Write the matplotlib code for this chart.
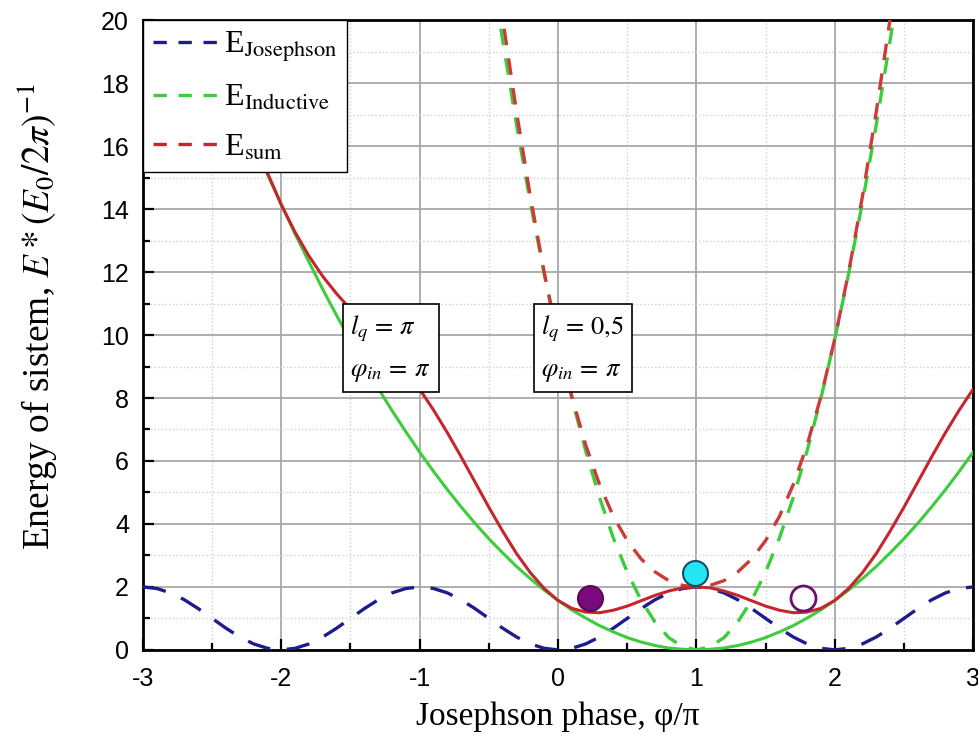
import numpy as np
import matplotlib
matplotlib.use("Agg")
import matplotlib.pyplot as plt
from matplotlib.ticker import MultipleLocator
from matplotlib.lines import Line2D

# values, x step 0.1 from -3 to 3
x = np.round(np.arange(-3.0, 3.0001, 0.1), 2)
e_josephson = [2.0, 1.95, 1.81, 1.59, 1.31, 1.0, 0.69, 0.41, 0.19, 0.05,
               0.0, 0.05, 0.19, 0.41, 0.69, 1.0, 1.31, 1.59, 1.81, 1.95,
               2.0, 1.95, 1.81, 1.59, 1.31, 1.0, 0.69, 0.41, 0.19, 0.05,
               0.0, 0.05, 0.19, 0.41, 0.69, 1.0, 1.31, 1.59, 1.81, 1.95,
               2.0, 1.95, 1.81, 1.59, 1.31, 1.0, 0.69, 0.41, 0.19, 0.05,
               0.0, 0.05, 0.19, 0.41, 0.69, 1.0, 1.31, 1.59, 1.81, 1.95, 2.0]
e_inductive = [25.13, 23.89, 22.68, 21.50, 20.36, 19.24, 18.16, 17.11, 16.08, 15.10,
               14.14, 13.21, 12.32, 11.45, 10.62, 9.82, 9.05, 8.31, 7.60, 6.93,
               6.28, 5.67, 5.09, 4.54, 4.02, 3.53, 3.08, 2.65, 2.26, 1.90,
               1.57, 1.27, 1.01, 0.77, 0.57, 0.39, 0.25, 0.14, 0.06, 0.02,
               0.0, 0.02, 0.06, 0.14, 0.25, 0.39, 0.57, 0.77, 1.01, 1.27,
               1.57, 1.90, 2.26, 2.65, 3.08, 3.53, 4.02, 4.54, 5.09, 5.67, 6.28]
e_sum = [27.13, 25.84, 24.49, 23.09, 21.67, 20.24, 18.85, 17.52, 16.27, 15.15,
         14.14, 13.26, 12.51, 11.86, 11.31, 10.82, 10.36, 9.90, 9.41, 8.88,
         8.28, 7.62, 6.90, 6.13, 5.33, 4.53, 3.77, 3.06, 2.45, 1.95,
         1.57, 1.32, 1.20, 1.18, 1.26, 1.39, 1.56, 1.73, 1.87, 1.97,
         2.0, 1.97, 1.87, 1.73, 1.56, 1.39, 1.26, 1.18, 1.20, 1.32,
         1.57, 1.95, 2.45, 3.06, 3.77, 4.53, 5.33, 6.13, 6.90, 7.62, 8.28]

# l_q = 0.5 case, x step 0.1 from -0.5 to 2.5
x2 = np.round(np.arange(-0.5, 2.5001, 0.1), 2)
e_ind_05 = [22.21, 19.35, 16.68, 14.21, 11.94, 9.87, 7.99, 6.32, 4.84, 3.55,
            2.47, 1.58, 0.89, 0.39, 0.10, 0.0, 0.10, 0.39, 0.89, 1.58,
            2.47, 3.55, 4.84, 6.32, 7.99, 9.87, 11.94, 14.21, 16.68, 19.35, 22.21]
e_sum_05 = [23.21, 20.04, 17.09, 14.40, 11.99, 9.87, 8.04, 6.51, 5.25, 4.24,
            3.47, 2.89, 2.48, 2.20, 2.05, 2.0, 2.05, 2.20, 2.48, 2.89,
            3.47, 4.24, 5.25, 6.51, 8.04, 9.87, 11.99, 14.40, 17.09, 20.04, 23.21]

# state markers
pts_x = [0.23, 0.99, 1.77]
pts_y = [1.65, 2.45, 1.65]

plt.rcParams['mathtext.fontset'] = 'stix'
plt.rcParams['axes.unicode_minus'] = False
serif = ['Liberation Serif', 'DejaVu Serif']

fig = plt.figure(figsize=(9.79, 7.47), dpi=100)
ax = fig.add_axes([0.146, 0.130, 0.848, 0.843])

blue = '#1c1c8c'
green = '#3ccc3c'
red = '#c4262c'

ax.plot(x, e_josephson, color=blue, lw=2.4, dashes=(7, 5), zorder=3)
ax.plot(x2, e_ind_05, color=green, lw=2.4, dashes=(5, 4), zorder=3)
ax.plot(x2, e_sum_05, color='#cc3a3a', lw=2.4, dashes=(5, 4), zorder=3)
ax.plot(x, e_inductive, color=green, lw=2.2, zorder=4)
ax.plot(x, e_sum, color=red, lw=2.2, zorder=4)

ax.plot(pts_x[0], pts_y[0], 'o', ms=18, mfc='#7a0a7a', mec='#5a0a5a', mew=1.5, zorder=6)
ax.plot(pts_x[1], pts_y[1], 'o', ms=18, mfc='#22e6f2', mec='#1a4a6a', mew=1.5, zorder=6)
ax.plot(pts_x[2], pts_y[2], 'o', ms=18, mfc='white', mec='#6a1070', mew=2.0, zorder=6)

ax.set_xlim(-3, 3)
ax.set_ylim(0, 20)
ax.xaxis.set_major_locator(MultipleLocator(1))
ax.xaxis.set_minor_locator(MultipleLocator(0.5))
ax.yaxis.set_major_locator(MultipleLocator(2))
ax.yaxis.set_minor_locator(MultipleLocator(1))
ax.grid(which='major', color='#a8a8a8', lw=1.3)
ax.grid(which='minor', color='#cfcfcf', lw=1.0, ls=':')
ax.set_axisbelow(True)
ax.tick_params(which='both', direction='in', top=False, right=False,
               labelsize=18, width=1.6)
ax.tick_params(which='major', length=8)
ax.tick_params(which='minor', length=5)
ax.tick_params(axis='x', which='major', pad=12)
ax.tick_params(axis='y', which='major', pad=10)
for lab in ax.get_xticklabels() + ax.get_yticklabels():
    lab.set_family(['Liberation Sans', 'DejaVu Sans'])
for s in ax.spines.values():
    s.set_linewidth(2.0)

ax.set_xlabel('Josephson phase, φ/π', fontsize=24, family=serif, labelpad=8)
ax.set_ylabel(r'Energy of sistem, $\mathit{E*(E_0/2\pi)^{-1}}$', fontsize=27,
              family=serif)
ax.yaxis.set_label_coords(-0.10, 0.53)

# legend
handles = [Line2D([], [], color=blue, lw=2.4, dashes=(4, 3.5)),
           Line2D([], [], color=green, lw=2.4, dashes=(4, 3.5)),
           Line2D([], [], color=red, lw=2.4, dashes=(4, 3.5))]
labels = [r'E$_{\mathrm{Josephson}}$', r'E$_{\mathrm{Inductive}}$', r'E$_{\mathrm{sum}}$']
leg = ax.legend(handles, labels, loc='upper left', bbox_to_anchor=(0.0, 1.0),
                prop={'family': serif, 'size': 23}, frameon=True, fancybox=False,
                framealpha=1, edgecolor='black', borderpad=0.3, labelspacing=0.62,
                handlelength=2.1, handletextpad=0.15, borderaxespad=0.0)
leg.get_frame().set_linewidth(1.0)
leg.set_zorder(10)

box = dict(boxstyle='square,pad=0.3', fc='white', ec='black', lw=1.2)
ax.text(-1.50, 9.55, '$l_q\\,=\\,\\pi$\n$\\varphi_{in}\\,=\\,\\pi$', fontsize=19,
        va='center', ha='left', bbox=box, linespacing=1.6, zorder=7)
ax.text(-0.12, 9.55, '$l_q\\,=\\,\\mathit{0{,}5}$\n$\\varphi_{in}\\,=\\,\\pi$', fontsize=19,
        va='center', ha='left', bbox=box, linespacing=1.6, zorder=7)

fig.savefig('out.png', dpi=100)
